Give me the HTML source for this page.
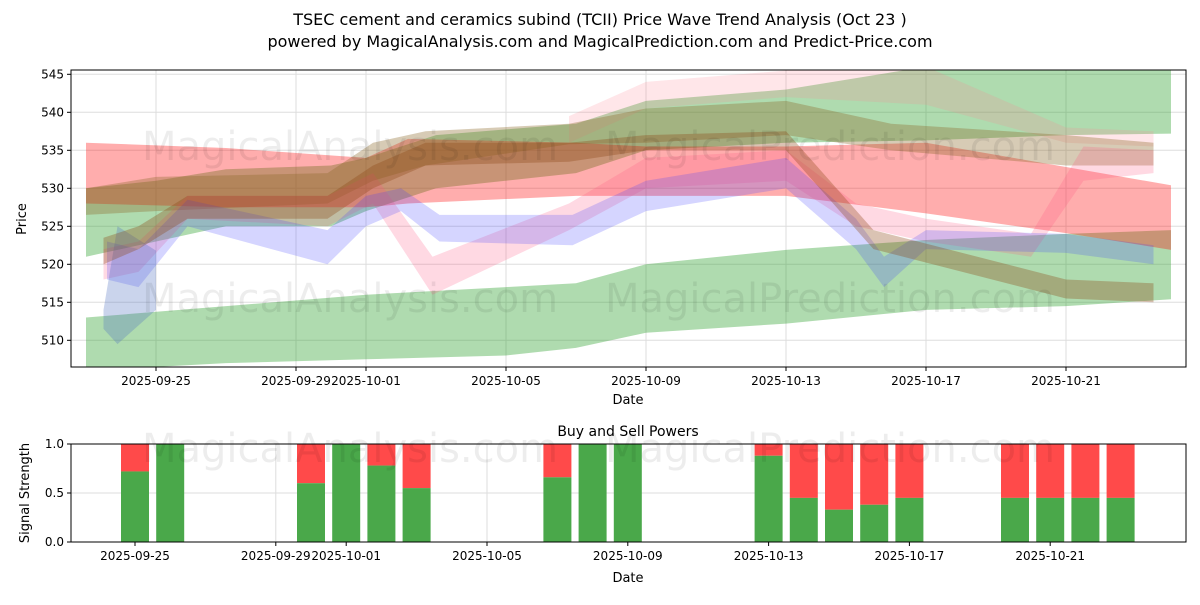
<!DOCTYPE html>
<html><head><meta charset="utf-8"><style>
body{margin:0;background:#fff}
svg text{font-family:"DejaVu Sans","Liberation Sans",sans-serif;fill:#000}
</style></head><body>
<svg id="c" width="1200" height="600" xmlns="http://www.w3.org/2000/svg">
<text x="600" y="25" font-size="16" text-anchor="middle">TSEC cement and ceramics subind (TCII) Price Wave Trend Analysis (Oct 23 )</text>
<text x="600" y="47" font-size="16" text-anchor="middle">powered by MagicalAnalysis.com and MagicalPrediction.com and Predict-Price.com</text>
<g id="topPanel"></g>
<g id="botPanel"></g>
</svg>
<script>
// ---- data ----
const xTickLabels=["2025-09-25","2025-09-29","2025-10-01","2025-10-05","2025-10-09","2025-10-13","2025-10-17","2025-10-21"];
const xTickDays=[2,6,8,12,16,20,24,28];
const yTicks=[510,515,520,525,530,535,540,545];
// bands: [day since 2025-09-23, low, high]
const greenLower=[[0,506,513],[4,507,514.5],[8,507.5,516],[12,508,517],[14,509,517.5],[16,511,520],[20,512.2,521.9],[24,514,523.2],[28,514.5,524],[31,515.4,524.5]];
const greenUpper=[[0,521,530],[2,523,531],[4,525,532.5],[7,525,533],[8,527,534],[10,530,537],[14,532,538.5],[16,535,541.5],[20,536,543],[24,536.3,546],[28,537,546],[31,537.2,546]];
const redBand=[[0,528,536],[4,527.5,535.3],[8,527.5,534],[9.2,528,536.5],[14,529,536],[16,529,535.5],[20,529,535.5],[24,526.7,536],[28,524.1,532.8],[31,521.9,530.4]];
const pinkUpper=[[13.8,536,539.5],[16,540.5,544],[20,542,545.5],[24,541,546],[28,536,538],[30.5,535.5,537.5]];
const oliveBand=[[0,526.5,530],[2,527,531.5],[6.9,528,532],[8.2,531,536],[9.7,533,537.5],[13.8,535.8,538.5],[16,536,540.5],[20,537,541.5],[23,535,538.5],[28,533,537],[30.5,533,536]];
const pinkWave=[[0.5,518,522],[1.5,519,523],[2.9,526,529],[6.9,525,529],[8.2,528,532],[9.9,516,521],[13.8,524.5,528],[16,530,534],[20,531,535],[22,525,528],[24,523,526],[27,521,524],[28.5,531,535.5],[30.5,532,535]];
const blueBand=[[0.6,518,523],[1.5,517,522],[2.9,525,528.5],[6.9,520,524.5],[8,525,529],[9,527,530],[10.1,523,526.5],[13.9,522.5,526.5],[16,527,531],[20,530,534],[22,522,526],[22.8,517,521],[24,522,524.5],[28,521.5,524],[30.5,520,522.5]];
const tealDiamond=[[0.5,511.5,514],[0.9,509.5,525],[2,514,521.8]];
const brownBand=[[0.5,520,523.5],[1.5,522,525],[2.9,526,529],[6.9,526,529],[8.2,530,533],[9.7,533,536],[13.8,533.5,536],[16,535,537],[20,535,537.5],[22.5,522,524.5],[28,515.5,518],[30.5,515,517.5]];
const barDays=[2,3,7,8,9,10,14,15,16,20,21,22,23,24,27,28,29,30];
const buyPower=[0.72,1,0.6,1,0.78,0.55,0.66,1,1,0.88,0.45,0.33,0.38,0.45,0.45,0.45,0.45,0.45];
// ---- axes ----
const NS="http://www.w3.org/2000/svg";
const L=71,R=1186,T=70,B=367;
const X=d=>86+d*35;
const Y=v=>112.3+(540-v)*7.6;
const BT=444,BB=542;
const XB=d=>64.6+d*35.2;
const YB=v=>BB-v*(BB-BT);
function mk(p,tag,a,txt){const e=document.createElementNS(NS,tag);for(const k in a)e.setAttribute(k,a[k]);if(txt!=null)e.textContent=txt;p.appendChild(e);return e;}
const topG=document.getElementById('topPanel'),botG=document.getElementById('botPanel');
const defs=mk(topG,'defs',{});const cp=mk(defs,'clipPath',{id:'cp'});mk(cp,'rect',{x:L,y:T,width:R-L,height:B-T});
xTickDays.forEach(d=>{mk(topG,'line',{x1:X(d),x2:X(d),y1:T,y2:B,stroke:'#ddd','stroke-width':1});});
yTicks.forEach(v=>{mk(topG,'line',{x1:L,x2:R,y1:Y(v),y2:Y(v),stroke:'#ddd','stroke-width':1});});
const g=mk(topG,'g',{'clip-path':'url(#cp)'});
function band(data,color,op,name){
 const up=data.map(p=>X(p[0])+','+Y(p[2])).join(' ');
 const lo=data.slice().reverse().map(p=>X(p[0])+','+Y(p[1])).join(' ');
 const e=mk(g,'polygon',{points:up+' '+lo,fill:color,'fill-opacity':op});
 
 
}
band(greenLower,'#2ca02c',0.38,'green-lower-band');
band(greenUpper,'#2ca02c',0.38,'green-upper-band');
band(redBand,'#ff0000',0.32,'red-band');
band(pinkUpper,'#ff8090',0.2,'pink-upper-band');
band(oliveBand,'#8b6a2b',0.35,'olive-band');
band(pinkWave,'#ff5080',0.22,'pink-wave-band');
band(blueBand,'#4040ff',0.22,'blue-band');
band(tealDiamond,'#5070c0',0.3,'teal-diamond');
band(brownBand,'#8b4513',0.32,'brown-band');
mk(topG,'text',{x:350,y:160,'font-size':40,'text-anchor':'middle',fill:'#000','fill-opacity':0.07},'MagicalAnalysis.com');
mk(topG,'text',{x:830,y:160,'font-size':40,'text-anchor':'middle',fill:'#000','fill-opacity':0.07},'MagicalPrediction.com');
mk(topG,'text',{x:350,y:312,'font-size':40,'text-anchor':'middle',fill:'#000','fill-opacity':0.07},'MagicalAnalysis.com');
mk(topG,'text',{x:830,y:312,'font-size':40,'text-anchor':'middle',fill:'#000','fill-opacity':0.07},'MagicalPrediction.com');
mk(topG,'rect',{x:L,y:T,width:R-L,height:B-T,fill:'none',stroke:'#000','stroke-width':1});
xTickDays.forEach((d,i)=>{mk(topG,'line',{x1:X(d),x2:X(d),y1:B,y2:B+4,stroke:'#000'});mk(topG,'text',{x:X(d),y:B+18,'font-size':12,'text-anchor':'middle'},xTickLabels[i]);});
yTicks.forEach(v=>{mk(topG,'line',{x1:L-4,x2:L,y1:Y(v),y2:Y(v),stroke:'#000'});mk(topG,'text',{x:L-7,y:Y(v)+4,'font-size':12,'text-anchor':'end'},v);});
mk(topG,'text',{x:628,y:404,'font-size':13,'text-anchor':'middle'},'Date');
mk(topG,'text',{x:26,y:219,'font-size':13,'text-anchor':'middle',transform:'rotate(-90 26 219)'},'Price');
[0,0.5,1].forEach(v=>mk(botG,'line',{x1:L,x2:R,y1:YB(v),y2:YB(v),stroke:'#ddd'}));
xTickDays.forEach(d=>mk(botG,'line',{x1:XB(d),x2:XB(d),y1:BT,y2:BB,stroke:'#ddd'}));
barDays.forEach((d,i)=>{
 const b=buyPower[i];
 const s=mk(botG,'rect',{x:XB(d)-14,y:YB(1),width:28,height:YB(b)-YB(1),fill:'#ff4a4a'});
 
 
 const r=mk(botG,'rect',{x:XB(d)-14,y:YB(b),width:28,height:BB-YB(b),fill:'#4aa84a'});
 
 
});
mk(botG,'text',{x:350,y:462,'font-size':40,'text-anchor':'middle',fill:'#000','fill-opacity':0.07},'MagicalAnalysis.com');
mk(botG,'text',{x:830,y:462,'font-size':40,'text-anchor':'middle',fill:'#000','fill-opacity':0.07},'MagicalPrediction.com');
mk(botG,'rect',{x:L,y:BT,width:R-L,height:BB-BT,fill:'none',stroke:'#000'});
xTickDays.forEach((d,i)=>{mk(botG,'line',{x1:XB(d),x2:XB(d),y1:BB,y2:BB+4,stroke:'#000'});mk(botG,'text',{x:XB(d),y:BB+18,'font-size':12,'text-anchor':'middle'},xTickLabels[i]);});
[[0,'0.0'],[0.5,'0.5'],[1,'1.0']].forEach(p=>{mk(botG,'line',{x1:L-4,x2:L,y1:YB(p[0]),y2:YB(p[0]),stroke:'#000'});mk(botG,'text',{x:L-7,y:YB(p[0])+4,'font-size':12,'text-anchor':'end'},p[1]);});
mk(botG,'text',{x:628,y:436,'font-size':14,'text-anchor':'middle'},'Buy and Sell Powers');
mk(botG,'text',{x:628,y:582,'font-size':13,'text-anchor':'middle'},'Date');
mk(botG,'text',{x:29,y:493,'font-size':13,'text-anchor':'middle',transform:'rotate(-90 29 493)'},'Signal Strength');
</script>
</body></html>
